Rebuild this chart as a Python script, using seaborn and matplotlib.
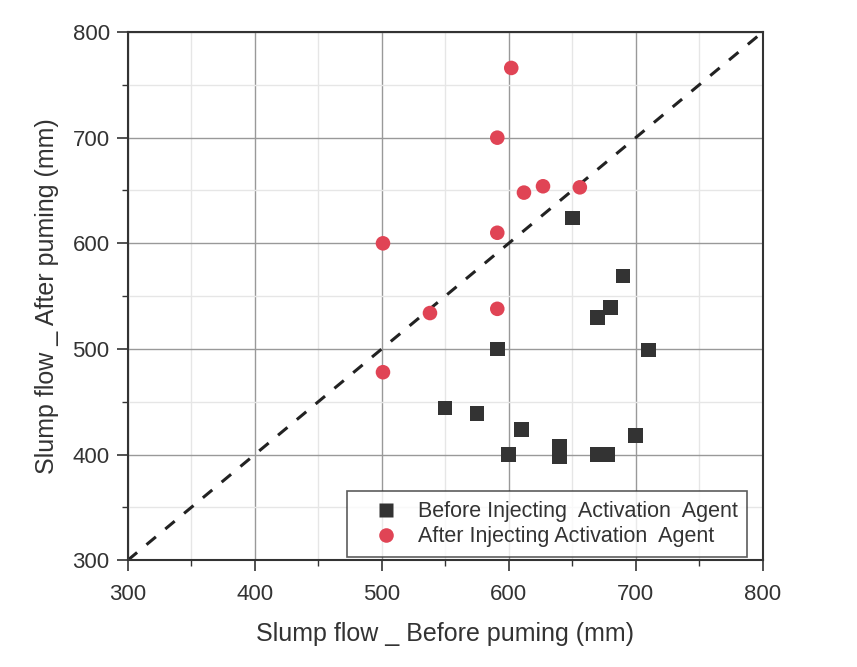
import matplotlib
matplotlib.use("Agg")
import matplotlib.pyplot as plt
import seaborn as sns
import pandas as pd
from matplotlib.ticker import MultipleLocator

before_x = [591, 550, 575, 610, 600, 640, 640, 670, 678, 650, 690, 680, 670, 710, 700]
before_y = [500, 444, 439, 424, 400, 408, 398, 400, 400, 624, 569, 539, 530, 499, 418]
after_x = [602, 591, 612, 627, 656, 591, 501, 591, 538, 501]
after_y = [766, 700, 648, 654, 653, 610, 600, 538, 534, 478]
labels = ["Before Injecting  Activation  Agent", "After Injecting Activation  Agent"]

df = pd.DataFrame({
    "x": before_x + after_x,
    "y": before_y + after_y,
    "group": [labels[0]] * len(before_x) + [labels[1]] * len(after_x),
})

sns.set_style("white")
plt.rcParams['font.family'] = ['Liberation Sans', 'DejaVu Sans']
plt.rcParams['xtick.labelsize'] = 16
plt.rcParams['ytick.labelsize'] = 16

fig = plt.figure(figsize=(8.57, 6.67), dpi=100)
ax = fig.add_axes([0.149, 0.160, 0.741, 0.792])

ax.plot([300, 800], [300, 800], ls=(0, (4, 4)), color="#222222", lw=2.2, zorder=2)

sns.scatterplot(data=df, x="x", y="y", hue="group", style="group",
                markers={labels[0]: "s", labels[1]: "o"},
                palette={labels[0]: "#333333", labels[1]: "#e04455"},
                s=110, edgecolor="none", ax=ax, zorder=3)

ax.set_xlim(300, 800)
ax.set_ylim(300, 800)
ax.xaxis.set_major_locator(MultipleLocator(100))
ax.yaxis.set_major_locator(MultipleLocator(100))
ax.xaxis.set_minor_locator(MultipleLocator(50))
ax.yaxis.set_minor_locator(MultipleLocator(50))
ax.grid(True, which="major", color="#999999", lw=1)
ax.grid(True, which="minor", color="#e6e6e6", lw=1)
ax.set_axisbelow(True)
ax.tick_params(axis="x", which="major", direction="out", length=8, width=1.2, colors="#333333",
               labelcolor="#333333", bottom=True, pad=9)
ax.tick_params(axis="y", which="major", direction="out", length=8, width=1.2, colors="#333333",
               labelcolor="#333333", left=True, pad=5)
ax.tick_params(which="minor", direction="out", length=4, width=1, colors="#333333",
               bottom=True, left=True)
for lab in ax.get_xticklabels() + ax.get_yticklabels():
    lab.set_fontsize(16)
for sp in ax.spines.values():
    sp.set_color("#333333")
    sp.set_linewidth(1.5)

ax.set_xlabel("Slump flow _ Before puming (mm)", fontsize=18, color="#333333", labelpad=12)
ax.set_ylabel("Slump flow _ After puming (mm)", fontsize=18, color="#333333", labelpad=10)

leg = ax.legend(loc="lower right", bbox_to_anchor=(0.976, 0.006), fontsize=15.5,
                frameon=True, fancybox=False, edgecolor="#333333", borderaxespad=0,
                handletextpad=0.15, labelspacing=0.2, borderpad=0.45, handlelength=2.7)
leg.get_frame().set_linewidth(1.2)
for t in leg.get_texts():
    t.set_color("#333333")

fig.savefig("out.png", dpi=100)
